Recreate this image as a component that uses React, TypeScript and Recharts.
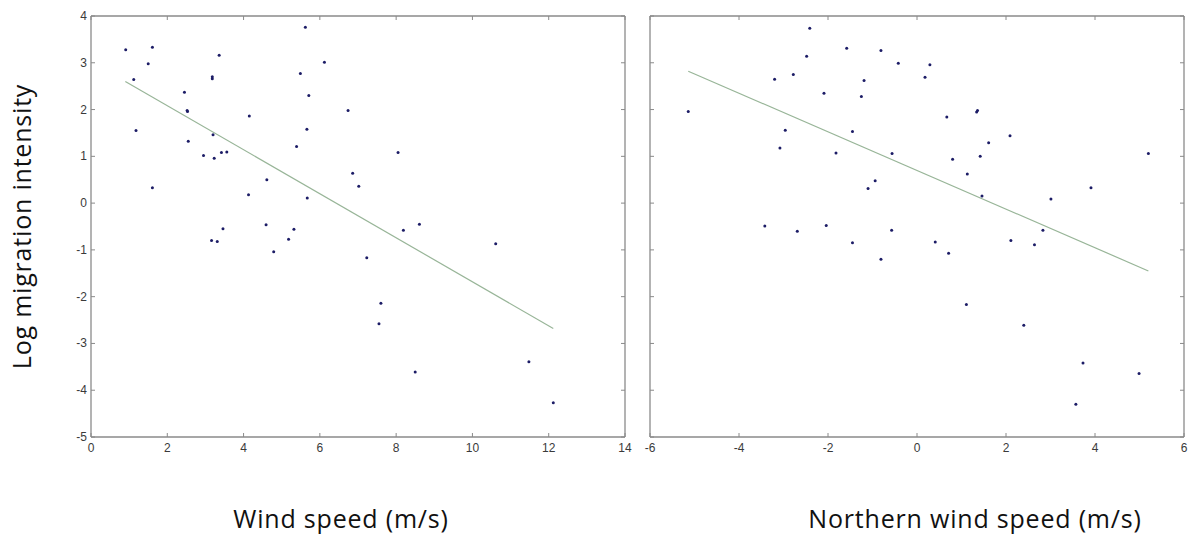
import { ReferenceLine, Scatter, ScatterChart, XAxis, YAxis } from "recharts";

// left panel: wind speed vs log migration intensity
const windSpeed = [
    0.91, 1.12, 1.18, 1.5, 1.61, 1.61, 2.45, 2.52, 2.53, 2.55, 2.95, 3.18, 3.18, 3.2, 3.23, 3.36,
    3.42, 3.56, 4.15, 4.13, 4.61, 5.39, 5.49, 5.62, 5.66, 5.67, 5.71, 6.12, 6.74, 6.86, 7.02, 8.05,
    3.16, 3.31, 3.46, 4.59, 4.79, 5.18, 5.32, 7.23, 7.6, 7.55, 8.5, 10.61, 11.48, 12.12, 8.19, 8.61,
];
const logIntensity = [
    3.28, 2.64, 1.55, 2.98, 3.33, 0.33, 2.37, 1.98, 1.96, 1.32, 1.02, 2.7, 2.66, 1.46, 0.96, 3.16,
    1.08, 1.09, 1.86, 0.18, 0.5, 1.21, 2.77, 3.76, 1.58, 0.11, 2.3, 3.01, 1.98, 0.64, 0.36, 1.08,
    -0.8, -0.82, -0.55, -0.46, -1.04, -0.77, -0.56, -1.17, -2.14, -2.58, -3.61, -0.87, -3.39, -4.27,
    -0.58, -0.45,
];
const windTrendX = [0.9, 12.12];
const windTrendY = [2.6, -2.68];

// right panel: northern wind speed vs log migration intensity
const northWind = [
    -2.41, -1.58, -0.81, -2.48, -0.42, -2.78, -3.2, -1.19, -2.09, -1.25, -5.14, -2.96, -1.45, -3.08,
    -1.82, -0.56, -0.94, -1.1, -3.42, -2.69, -2.04, -1.45, -0.81, -0.57, 0.29, 0.18, 0.67, 1.34,
    1.36, 2.09, 1.61, 0.8, 1.42, 1.13, 1.46, 3.01, 3.91, 5.2, 0.41, 0.71, 1.11, 2.11, 2.4, 2.64,
    2.83, 3.73, 3.57, 4.99,
];
const logIntensityN = [
    3.74, 3.31, 3.26, 3.14, 2.99, 2.75, 2.65, 2.62, 2.35, 2.28, 1.96, 1.56, 1.53, 1.18, 1.07, 1.06,
    0.48, 0.31, -0.49, -0.6, -0.48, -0.85, -1.2, -0.58, 2.96, 2.69, 1.84, 1.95, 1.98, 1.44, 1.29,
    0.94, 1.0, 0.62, 0.15, 0.09, 0.33, 1.06, -0.83, -1.07, -2.17, -0.8, -2.61, -0.89, -0.58, -3.42,
    -4.3, -3.64,
];
const northTrendX = [-5.14, 5.2];
const northTrendY = [2.82, -1.45];

const yTicks = [-5, -4, -3, -2, -1, 0, 1, 2, 3, 4];
const windTicks = [0, 2, 4, 6, 8, 10, 12, 14];
const northTicks = [-6, -4, -2, 0, 2, 4, 6];

const BOX = "#8a8a8a";
const DOT = "#1c1c66";
const TREND = "#98b598";
const TICK_FONT = "Liberation Sans, Arial, sans-serif";
const titleStyle = {
    fontSize: 25,
    fill: "#111",
    fontFamily: "Open Sans, sans-serif",
    letterSpacing: 0.8,
};

function zip(xs: number[], ys: number[]) {
    return xs.map((x, i) => ({ x, y: ys[i] }));
}

const dot = (p: any) => <circle cx={p.cx} cy={p.cy} r={1.5} fill={DOT} />;

// matlab style inward ticks, drawn by hand since the axis is given tickSize 0
function tickMark(side: "bottom" | "top" | "left" | "right", showLabel: boolean) {
    return (p: any) => {
        const { x, y } = p;
        const v = p.payload.value;
        let line;
        if (side === "bottom") line = <line x1={x} y1={y} x2={x} y2={y - 4} stroke={BOX} />;
        else if (side === "top") line = <line x1={x} y1={y} x2={x} y2={y + 4} stroke={BOX} />;
        else if (side === "left") line = <line x1={x} y1={y} x2={x + 4} y2={y} stroke={BOX} />;
        else line = <line x1={x} y1={y} x2={x - 4} y2={y} stroke={BOX} />;
        return (
            <g>
                {line}
                {showLabel && side === "bottom" && (
                    <text x={x} y={y + 15} textAnchor="middle" fontSize={12} fill="#3a3a3a" fontFamily={TICK_FONT}>
                        {v}
                    </text>
                )}
                {showLabel && side === "left" && (
                    <text x={x - 4} y={y + 4} textAnchor="end" fontSize={12} fill="#3a3a3a" fontFamily={TICK_FONT}>
                        {v}
                    </text>
                )}
            </g>
        );
    };
}

function Panel({
    xs,
    ys,
    trendX,
    trendY,
    xDomain,
    xTicks,
    xTitle,
    xTitleShift,
    yTitle,
    width,
    yAxisWidth,
    right,
}: {
    xs: number[];
    ys: number[];
    trendX: number[];
    trendY: number[];
    xDomain: [number, number];
    xTicks: number[];
    xTitle: string;
    xTitleShift: number;
    yTitle?: string;
    width: number;
    yAxisWidth: number;
    right: number;
}) {
    return (
        <ScatterChart width={width} height={540} margin={{ top: 15, right, bottom: 0, left: 0 }}>
            <XAxis
                xAxisId="b"
                type="number"
                dataKey="x"
                domain={xDomain}
                ticks={xTicks}
                interval={0}
                allowDataOverflow
                height={103}
                stroke={BOX}
                strokeWidth={1.3}
                tickSize={0}
                tickMargin={0}
                tick={tickMark("bottom", true)}
                label={{
                    value: xTitle,
                    position: "insideBottom",
                    offset: 12,
                    dx: xTitleShift,
                    style: titleStyle,
                }}
            />
            <XAxis
                xAxisId="t"
                orientation="top"
                type="number"
                dataKey="x"
                domain={xDomain}
                ticks={xTicks}
                interval={0}
                allowDataOverflow
                height={1}
                stroke={BOX}
                strokeWidth={1.3}
                tickSize={0}
                tickMargin={0}
                tick={tickMark("top", false)}
            />
            <YAxis
                yAxisId="l"
                type="number"
                dataKey="y"
                domain={[-5, 4]}
                ticks={yTicks}
                interval={0}
                allowDataOverflow
                width={yAxisWidth}
                stroke={BOX}
                strokeWidth={1.3}
                tickSize={0}
                tickMargin={0}
                tick={tickMark("left", !!yTitle)}
                label={
                    yTitle
                        ? {
                              value: yTitle,
                              angle: -90,
                              position: "insideLeft",
                              offset: 22,
                              style: { ...titleStyle, textAnchor: "middle" },
                          }
                        : undefined
                }
            />
            <YAxis
                yAxisId="r"
                orientation="right"
                type="number"
                dataKey="y"
                domain={[-5, 4]}
                ticks={yTicks}
                interval={0}
                allowDataOverflow
                width={1}
                stroke={BOX}
                strokeWidth={1.3}
                tickSize={0}
                tickMargin={0}
                tick={tickMark("right", false)}
            />
            <ReferenceLine
                xAxisId="b"
                yAxisId="l"
                segment={[
                    { x: trendX[0], y: trendY[0] },
                    { x: trendX[1], y: trendY[1] },
                ]}
                stroke={TREND}
                strokeWidth={1.2}
                ifOverflow="visible"
            />
            <Scatter
                xAxisId="b"
                yAxisId="l"
                data={zip(xs, ys)}
                shape={dot}
                isAnimationActive={false}
            />
        </ScatterChart>
    );
}

export default function App() {
    return (
        <div style={{ position: "absolute", left: 0, top: 0, width: 1190, height: 540, background: "#fff" }}>
            <div style={{ position: "absolute", left: 0, top: 0 }}>
                <Panel
                    xs={windSpeed}
                    ys={logIntensity}
                    trendX={windTrendX}
                    trendY={windTrendY}
                    xDomain={[0, 14]}
                    xTicks={windTicks}
                    xTitle="Wind speed (m/s)"
                    xTitleShift={-17}
                    yTitle="Log migration intensity"
                    width={640}
                    yAxisWidth={91}
                    right={14}
                />
            </div>
            <div style={{ position: "absolute", left: 630, top: 0 }}>
                <Panel
                    xs={northWind}
                    ys={logIntensityN}
                    trendX={northTrendX}
                    trendY={northTrendY}
                    xDomain={[-6, 6]}
                    xTicks={northTicks}
                    xTitle="Northern wind speed (m/s)"
                    xTitleShift={58}
                    width={560}
                    yAxisWidth={20}
                    right={5}
                />
            </div>
        </div>
    );
}
